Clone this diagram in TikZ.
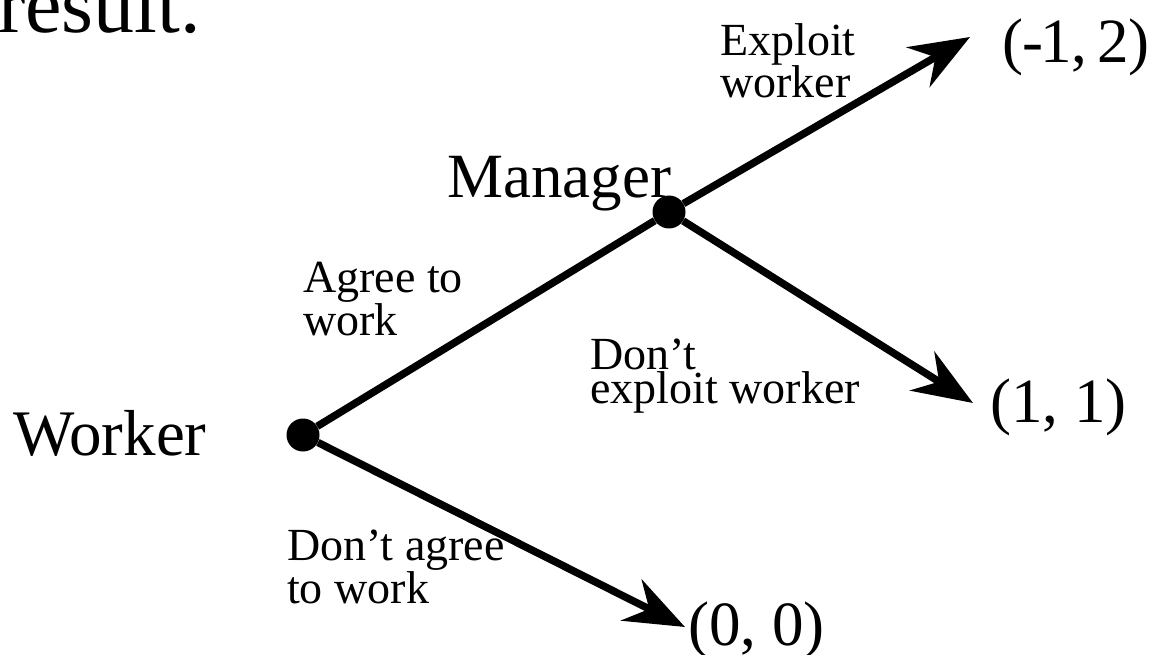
\documentclass[tikz,border=0pt]{standalone}
\usepackage{fontspec}
\setmainfont{Liberation Serif}
\usetikzlibrary{arrows.meta}
\tikzset{
  x=1pt, y=-1pt,
  dot/.style={circle, fill=black, inner sep=0pt, minimum size=33pt},
  branch/.style={line width=7.5pt},
  arr/.style={branch, -{Stealth[length=60pt,width=46pt,inset=20pt]}},
  bigtext/.style={inner sep=0pt, anchor=base west, font=\fontsize{63}{63}\selectfont},
  smalltext/.style={inner sep=0pt, anchor=base west, align=left, font=\fontsize{46}{29}\selectfont},
}
\begin{document}
\begin{tikzpicture}
\useasboundingbox (0,0) rectangle (1168,655);
% title fragment
\node[inner sep=0pt, anchor=base west, font=\fontsize{82}{82}\selectfont] (title) at (-2,33) {result.};
% decision nodes
\node[dot] (w) at (303,435) {};
\node[dot] (m) at (669,212) {};
% arrow tips
\coordinate (t1) at (970,37);
\coordinate (t2) at (973,403);
\coordinate (t3) at (685,627);
% player labels
\node[bigtext, font=\fontsize{65}{65}\selectfont] (wl) at (13,455) {Worker};
\node[bigtext] (ml) at (447,198) {Manager};
% payoffs
\node[bigtext] (p1) at (1002,63) {(\kern-1pt-\kern-3pt1,\kern-6pt{} 2)};
\node[bigtext] (p2) at (990,422) {(1, 1)};
\node[bigtext] (p3) at (688,645) {(0, 0)};
% branches
\draw[branch] (w) -- (m);
\draw[arr] (m) -- (t1);
\draw[arr] (m) -- (t2);
\draw[arr] (w) -- (t3);
% action labels (anchor at the baseline of the last line)
\node[smalltext, font=\fontsize{46}{40}\selectfont] (a1) at (303,335) {Agree to\\work};
\node[smalltext, font=\fontsize{46}{30}\selectfont] (a2) at (287,603) {Don’t agree\\to work};
\node[smalltext] (a3) at (720,98) {Exploit\\worker};
\node[smalltext] (a4) at (590,403) {Don’t\\exploit worker};
\end{tikzpicture}
\end{document}
